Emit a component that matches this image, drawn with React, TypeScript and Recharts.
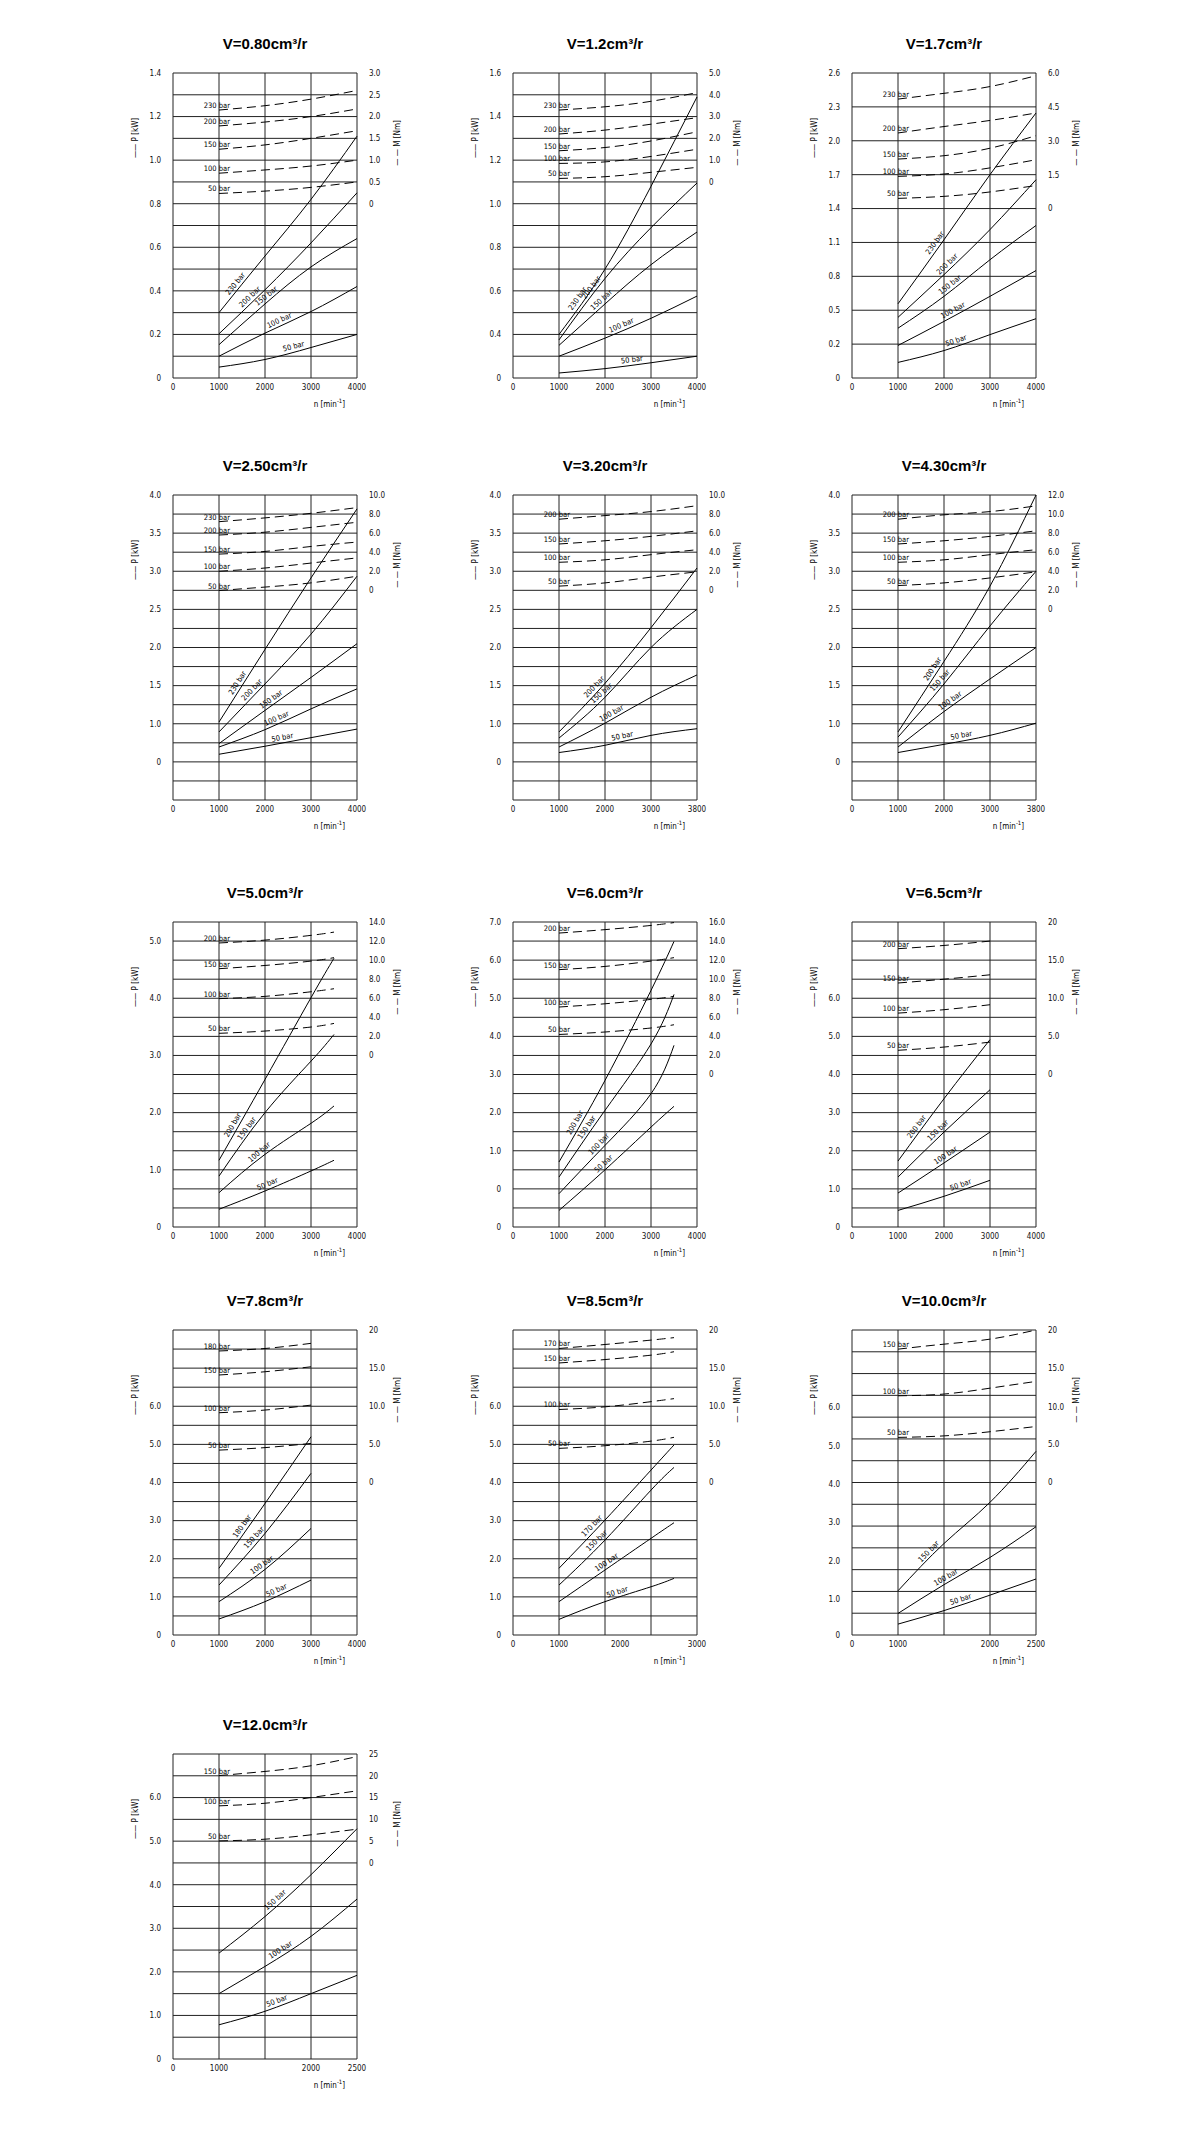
import { LineChart, Line, XAxis, YAxis, ReferenceLine, ReferenceDot } from 'recharts'

// all positions are in grid units: x = column (0..4), y = row (0..ROWS)
const TITLES = [
  'V=0.80cm³/r', 'V=1.2cm³/r', 'V=1.7cm³/r',
  'V=2.50cm³/r', 'V=3.20cm³/r', 'V=4.30cm³/r',
  'V=5.0cm³/r', 'V=6.0cm³/r', 'V=6.5cm³/r',
  'V=7.8cm³/r', 'V=8.5cm³/r', 'V=10.0cm³/r',
  'V=12.0cm³/r',
]

const ROWS = [14, 14, 9, 16, 16, 16, 16, 16, 16, 16, 16, 14, 14]

const LEFT_TICKS: [number, string][][] = [
  [[0, '0'], [2, '0.2'], [4, '0.4'], [6, '0.6'], [8, '0.8'], [10, '1.0'], [12, '1.2'], [14, '1.4']],
  [[0, '0'], [2, '0.4'], [4, '0.6'], [6, '0.8'], [8, '1.0'], [10, '1.2'], [12, '1.4'], [14, '1.6']],
  [[0, '0'], [1, '0.2'], [2, '0.5'], [3, '0.8'], [4, '1.1'], [5, '1.4'], [6, '1.7'], [7, '2.0'], [8, '2.3'], [9, '2.6']],
  [[2, '0'], [4, '1.0'], [6, '1.5'], [8, '2.0'], [10, '2.5'], [12, '3.0'], [14, '3.5'], [16, '4.0']],
  [[2, '0'], [4, '1.0'], [6, '1.5'], [8, '2.0'], [10, '2.5'], [12, '3.0'], [14, '3.5'], [16, '4.0']],
  [[2, '0'], [4, '1.0'], [6, '1.5'], [8, '2.0'], [10, '2.5'], [12, '3.0'], [14, '3.5'], [16, '4.0']],
  [[0, '0'], [3, '1.0'], [6, '2.0'], [9, '3.0'], [12, '4.0'], [15, '5.0']],
  [[0, '0'], [2, '0'], [4, '1.0'], [6, '2.0'], [8, '3.0'], [10, '4.0'], [12, '5.0'], [14, '6.0'], [16, '7.0']],
  [[0, '0'], [2, '1.0'], [4, '2.0'], [6, '3.0'], [8, '4.0'], [10, '5.0'], [12, '6.0']],
  [[0, '0'], [2, '1.0'], [4, '2.0'], [6, '3.0'], [8, '4.0'], [10, '5.0'], [12, '6.0']],
  [[0, '0'], [2, '1.0'], [4, '2.0'], [6, '3.0'], [8, '4.0'], [10, '5.0'], [12, '6.0']],
  [[0, '0'], [1.65, '1.0'], [3.41, '2.0'], [5.17, '3.0'], [6.93, '4.0'], [8.68, '5.0'], [10.44, '6.0']],
  [[0, '0'], [2, '1.0'], [4, '2.0'], [6, '3.0'], [8, '4.0'], [10, '5.0'], [12, '6.0']],
]

const RIGHT_TICKS: [number, string][][] = [
  [[8, '0'], [9, '0.5'], [10, '1.0'], [11, '1.5'], [12, '2.0'], [13, '2.5'], [14, '3.0']],
  [[9, '0'], [10, '1.0'], [11, '2.0'], [12, '3.0'], [13, '4.0'], [14, '5.0']],
  [[5, '0'], [6, '1.5'], [7, '3.0'], [8, '4.5'], [9, '6.0']],
  [[11, '0'], [12, '2.0'], [13, '4.0'], [14, '6.0'], [15, '8.0'], [16, '10.0']],
  [[11, '0'], [12, '2.0'], [13, '4.0'], [14, '6.0'], [15, '8.0'], [16, '10.0']],
  [[10, '0'], [11, '2.0'], [12, '4.0'], [13, '6.0'], [14, '8.0'], [15, '10.0'], [16, '12.0']],
  [[9, '0'], [10, '2.0'], [11, '4.0'], [12, '6.0'], [13, '8.0'], [14, '10.0'], [15, '12.0'], [16, '14.0']],
  [[8, '0'], [9, '2.0'], [10, '4.0'], [11, '6.0'], [12, '8.0'], [13, '10.0'], [14, '12.0'], [15, '14.0'], [16, '16.0']],
  [[8, '0'], [10, '5.0'], [12, '10.0'], [14, '15.0'], [16, '20']],
  [[8, '0'], [10, '5.0'], [12, '10.0'], [14, '15.0'], [16, '20']],
  [[8, '0'], [10, '5.0'], [12, '10.0'], [14, '15.0'], [16, '20']],
  [[7, '0'], [8.76, '5.0'], [10.47, '10.0'], [12.24, '15.0'], [14, '20']],
  [[9, '0'], [10, '5'], [11, '10'], [12, '15'], [13, '20'], [14, '25']],
]

const X4000: [number, string][] = [[0, '0'], [1, '1000'], [2, '2000'], [3, '3000'], [4, '4000']]
const X3800: [number, string][] = [[0, '0'], [1, '1000'], [2, '2000'], [3, '3000'], [4, '3800']]
const X2500: [number, string][] = [[0, '0'], [1, '1000'], [3, '2000'], [4, '2500']]
const X_TICKS = [
  X4000, X4000, X4000, X4000, X3800, X3800, X4000, X4000, X4000, X4000,
  [[0, '0'], [1, '1000'], [2.33, '2000'], [4, '3000']] as [number, string][],
  X2500, X2500,
]

const CURVE_X = [
  [1, 2, 3, 4], [1, 2, 3, 4], [1, 2, 3, 4], [1, 2, 3, 4], [1, 2, 3, 4], [1, 2, 3, 4],
  [1, 2, 3, 3.5], [1, 2, 3, 3.5], [1, 2, 3], [1, 2, 3], [1, 2, 3, 3.5],
  [1, 2, 3, 4], [1, 2, 3, 4],
]

const BARS = [
  ['230', '200', '150', '100', '50'], ['230', '200', '150', '100', '50'],
  ['230', '200', '150', '100', '50'], ['230', '200', '150', '100', '50'],
  ['200', '150', '100', '50'], ['200', '150', '100', '50'], ['200', '150', '100', '50'],
  ['200', '150', '100', '50'], ['200', '150', '100', '50'],
  ['180', '150', '100', '50'], ['170', '150', '100', '50'],
  ['150', '100', '50'], ['150', '100', '50'],
]

// power curves (solid)
const POWER = [
  [[3.0, 5.6, 8.2, 11.1], [2.03, 4.05, 6.2, 8.5], [1.53, 3.4, 5.1, 6.4], [1.0, 2.06, 3.05, 4.2], [0.5, 0.85, 1.4, 2.0]],
  [[2.0, 5.0, 8.8, 12.9], [1.75, 4.57, 6.9, 8.95], [1.5, 3.4, 5.2, 6.7], [1.0, 1.83, 2.74, 3.76], [0.23, 0.43, 0.7, 1.0]],
  [[2.19, 4.08, 6.0, 7.82], [1.79, 3.05, 4.38, 5.85], [1.47, 2.41, 3.49, 4.5], [0.96, 1.67, 2.41, 3.17], [0.46, 0.81, 1.28, 1.75]],
  [[4.09, 7.9, 11.65, 15.27], [3.57, 6.09, 8.7, 11.74], [2.96, 4.7, 6.43, 8.2], [2.78, 3.69, 4.78, 5.83], [2.4, 2.82, 3.27, 3.72]],
  [[3.57, 6.12, 9.04, 12.17], [3.25, 5.39, 8.0, 10.0], [2.78, 4.03, 5.39, 6.56], [2.49, 2.87, 3.39, 3.74]],
  [[3.57, 7.27, 11.22, 16.0], [3.3, 6.09, 9.13, 12.0], [2.78, 4.64, 6.35, 8.0], [2.49, 2.92, 3.39, 4.03]],
  [[3.5, 7.74, 12.03, 14.1], [2.67, 6.0, 8.7, 10.1], [1.8, 3.81, 5.44, 6.35], [0.93, 1.89, 2.94, 3.5]],
  [[3.41, 7.69, 12.41, 14.98], [2.62, 6.12, 9.6, 12.2], [1.75, 4.28, 6.99, 9.53], [0.87, 3.0, 5.24, 6.33]],
  [[3.46, 6.73, 9.83], [2.62, 4.98, 7.2], [1.78, 3.36, 4.98], [0.87, 1.61, 2.45]],
  [[3.5, 6.9, 10.4], [2.62, 5.33, 8.48], [1.75, 3.44, 5.59], [0.84, 1.75, 2.88]],
  [[3.5, 6.03, 8.65, 9.97], [2.62, 4.98, 7.6, 8.79], [1.75, 3.41, 5.07, 5.89], [0.82, 1.75, 2.53, 2.97]],
  [[2.03, 4.2, 6.09, 8.43], [0.99, 2.31, 3.56, 4.97], [0.5, 1.12, 1.83, 2.57]],
  [[4.86, 6.54, 8.46, 10.57], [3.0, 4.25, 5.63, 7.34], [1.57, 2.19, 3.0, 3.84]],
]

// torque curves (dashed)
const TORQUE = [
  [[12.3, 12.5, 12.8, 13.2], [11.57, 11.75, 12.0, 12.35], [10.5, 10.7, 11.0, 11.35], [9.4, 9.55, 9.73, 10.0], [8.47, 8.58, 8.75, 9.0]],
  [[12.3, 12.45, 12.7, 13.1], [11.2, 11.38, 11.65, 11.95], [10.43, 10.58, 10.88, 11.3], [9.85, 9.92, 10.17, 10.5], [9.16, 9.24, 9.44, 9.67]],
  [[8.23, 8.4, 8.6, 8.92], [7.23, 7.42, 7.6, 7.82], [6.46, 6.56, 6.78, 7.15], [5.95, 6.02, 6.2, 6.44], [5.3, 5.36, 5.49, 5.68]],
  [[14.6, 14.8, 15.04, 15.34], [13.9, 14.05, 14.3, 14.57], [12.9, 13.04, 13.3, 13.53], [12.0, 12.17, 12.43, 12.7], [10.99, 11.17, 11.39, 11.74]],
  [[14.73, 14.92, 15.13, 15.44], [13.43, 13.6, 13.83, 14.12], [12.47, 12.6, 12.87, 13.13], [11.22, 11.39, 11.69, 11.97]],
  [[14.73, 14.96, 15.13, 15.43], [13.43, 13.6, 13.83, 14.12], [12.47, 12.6, 12.87, 13.13], [11.25, 11.39, 11.65, 11.97]],
  [[14.9, 15.05, 15.3, 15.47], [13.55, 13.72, 13.95, 14.13], [11.98, 12.1, 12.34, 12.5], [10.16, 10.28, 10.49, 10.68]],
  [[15.42, 15.6, 15.82, 15.97], [13.5, 13.67, 13.95, 14.13], [11.54, 11.71, 11.94, 12.1], [10.1, 10.23, 10.44, 10.61]],
  [[14.6, 14.77, 15.0], [12.8, 13.0, 13.23], [11.22, 11.4, 11.66], [9.27, 9.44, 9.7]],
  [[14.9, 15.03, 15.3], [13.64, 13.81, 14.07], [11.66, 11.8, 12.06], [9.7, 9.83, 10.05]],
  [[15.03, 15.24, 15.47, 15.6], [14.27, 14.45, 14.68, 14.86], [11.83, 11.97, 12.24, 12.4], [9.79, 9.93, 10.17, 10.37]],
  [[13.12, 13.35, 13.58, 14.0], [10.98, 11.06, 11.33, 11.64], [9.07, 9.14, 9.33, 9.57]],
  [[13.01, 13.2, 13.46, 13.88], [11.62, 11.74, 12.0, 12.31], [10.01, 10.09, 10.29, 10.55]],
]

// column where each power-curve label sits
const LABEL_COLS = [
  [1.45, 1.75, 2.1, 2.36, 2.65], [1.5, 1.8, 2.0, 2.4, 2.6], [1.9, 2.15, 2.2, 2.25, 2.3],
  [1.5, 1.8, 2.2, 2.3, 2.4], [1.85, 2.0, 2.2, 2.4], [1.85, 2.0, 2.2, 2.4],
  [1.4, 1.7, 1.95, 2.1], [1.45, 1.7, 1.95, 2.05], [1.5, 1.95, 2.1, 2.4],
  [1.6, 1.85, 2.0, 2.3], [1.8, 1.9, 2.1, 2.3], [1.75, 2.1, 2.4], [2.3, 2.4, 2.3],
]

const PLOT_POS = [
  [173, 73], [513, 73], [852, 73],
  [173, 495], [513, 495], [852, 495],
  [173, 922], [513, 922], [852, 922],
  [173, 1330], [513, 1330], [852, 1330],
  [173, 1754],
]

const FONT = "'DejaVu Sans Condensed', 'DejaVu Sans', sans-serif"
const PLOT_W = 184
const PLOT_H = 305
const GRID = '#222'

function lookup(list: [number, string][], v: number) {
  const t = list.find((p) => Math.abs(p[0] - v) < 1e-6)
  return t ? t[1] : ''
}

function interp(xs: number[], ys: number[], c: number) {
  for (let k = 0; k < xs.length - 1; k++) {
    if (c >= xs[k] && c <= xs[k + 1]) {
      const t = (c - xs[k]) / (xs[k + 1] - xs[k])
      return { y: ys[k] + t * (ys[k + 1] - ys[k]), slope: (ys[k + 1] - ys[k]) / (xs[k + 1] - xs[k]) }
    }
  }
  return { y: ys[ys.length - 1], slope: 0 }
}

function Panel({ i }: { i: number }) {
  const n = ROWS[i]
  const xs = CURVE_X[i]
  const [px, py] = PLOT_POS[i]
  const pxRow = PLOT_H / n
  const pxCol = PLOT_W / 4
  const rows = Array.from({ length: n + 1 }, (_, k) => k)
  const cols = [0, 1, 2, 3, 4]

  return (
    <div style={{ position: 'absolute', left: px - 60, top: py - 45, width: 300, height: 380, fontFamily: FONT }}>
      <div
        style={{
          position: 'absolute', left: 60, width: PLOT_W, top: 7, textAlign: 'center',
          fontFamily: "'Liberation Sans', Arial, sans-serif", fontWeight: 700, fontSize: 15,
        }}
      >
        {TITLES[i]}
      </div>
      <div
        style={{
          position: 'absolute', left: 22, top: 45 + 65, fontSize: 8, whiteSpace: 'nowrap',
          transform: 'translate(-50%, -50%) rotate(-90deg)',
        }}
      >
        —— P [kW]
      </div>
      <div
        style={{
          position: 'absolute', left: 60 + PLOT_W + 40, top: 45 + 70, fontSize: 8, whiteSpace: 'nowrap',
          transform: 'translate(-50%, -50%) rotate(-90deg)',
        }}
      >
        — — M [Nm]
      </div>
      <div
        style={{
          position: 'absolute', left: 60 + 3.4 * pxCol, top: 45 + PLOT_H + 19, fontSize: 8,
          whiteSpace: 'nowrap', transform: 'translateX(-50%)',
        }}
      >
        n [min<sup style={{ fontSize: 6 }}>-1</sup>]
      </div>
      <LineChart width={300} height={380} margin={{ top: 45, right: 0, bottom: 0, left: 0 }}>
        <XAxis
          type="number"
          dataKey="x"
          domain={[0, 4]}
          ticks={X_TICKS[i].map((t) => t[0])}
          tickFormatter={(v) => lookup(X_TICKS[i], v)}
          interval={0}
          axisLine={false}
          tickLine={false}
          height={30}
          tickMargin={0}
          tick={{ fontSize: 8, fill: '#111', fontFamily: FONT }}
        />
        <YAxis
          yAxisId="l"
          type="number"
          domain={[0, n]}
          ticks={LEFT_TICKS[i].map((t) => t[0])}
          tickFormatter={(v) => lookup(LEFT_TICKS[i], v)}
          interval={0}
          axisLine={false}
          tickLine={false}
          width={60}
          tickMargin={6}
          tick={{ fontSize: 8, fill: '#111', fontFamily: FONT }}
        />
        <YAxis
          yAxisId="r"
          orientation="right"
          type="number"
          domain={[0, n]}
          allowDataOverflow
          ticks={RIGHT_TICKS[i].map((t) => t[0])}
          tickFormatter={(v) => lookup(RIGHT_TICKS[i], v)}
          interval={0}
          axisLine={false}
          tickLine={false}
          width={56}
          tickMargin={6}
          tick={{ fontSize: 8, fill: '#111', fontFamily: FONT }}
        />
        <ReferenceLine yAxisId="r" y={0} stroke="none" />
        <ReferenceLine yAxisId="r" y={n} stroke="none" />
        {rows.map((r) => (
          <ReferenceLine key={'h' + r} yAxisId="l" y={r} stroke={GRID} strokeWidth={1} />
        ))}
        {cols.map((c) => (
          <ReferenceLine key={'v' + c} yAxisId="l" x={c} stroke={GRID} strokeWidth={1} />
        ))}
        {POWER[i].map((ys, k) => (
          <Line
            key={'p' + k}
            yAxisId="l"
            data={xs.map((x, j) => ({ x, y: ys[j] }))}
            dataKey="y"
            type="natural"
            dot={false}
            stroke="#000"
            strokeWidth={1}
            isAnimationActive={false}
          />
        ))}
        {TORQUE[i].map((ys, k) => (
          <Line
            key={'m' + k}
            yAxisId="r"
            data={xs.map((x, j) => ({ x, y: ys[j] }))}
            dataKey="y"
            type="natural"
            dot={false}
            stroke="#000"
            strokeWidth={1}
            strokeDasharray="9 5"
            isAnimationActive={false}
          />
        ))}
        {POWER[i].map((ys, k) => {
          const c = LABEL_COLS[i][k]
          const { y, slope } = interp(xs, ys, c)
          const angle = (-Math.atan2(slope * pxRow, pxCol) * 180) / Math.PI
          return (
            <ReferenceDot
              key={'pl' + k}
              yAxisId="l"
              x={c}
              y={y}
              r={0}
              shape={(p: any) => (
                <text
                  x={p.cx}
                  y={p.cy}
                  dy={-3}
                  fontSize={7.5}
                  textAnchor="middle"
                  fontFamily={FONT}
                  transform={`rotate(${angle} ${p.cx} ${p.cy})`}
                >
                  {BARS[i][k]} bar
                </text>
              )}
            />
          )
        })}
        {TORQUE[i].map((ys, k) => (
          <ReferenceDot
            key={'ml' + k}
            yAxisId="l"
            x={xs[0]}
            y={ys[0]}
            r={0}
            shape={(p: any) => (
              <text x={p.cx + 11} y={p.cy - 2} fontSize={7.5} textAnchor="end" fontFamily={FONT}>
                {BARS[i][k]} bar
              </text>
            )}
          />
        ))}
      </LineChart>
    </div>
  )
}

export default function App() {
  return (
    <div style={{ width: 1200, height: 2142, background: '#fff' }}>
      {TITLES.map((_, i) => (
        <Panel key={i} i={i} />
      ))}
    </div>
  )
}
